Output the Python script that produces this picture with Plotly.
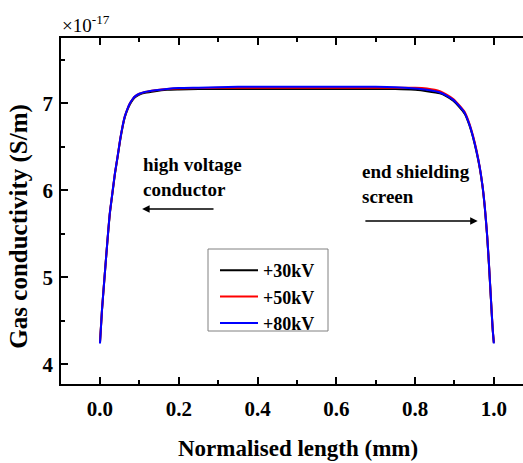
import plotly.graph_objects as go

# Normalised position along the gap
x_pos = [0.0, 0.005, 0.011, 0.018, 0.025, 0.032, 0.038, 0.045, 0.051, 0.057,
         0.063, 0.07, 0.076, 0.083, 0.089, 0.1, 0.114, 0.14, 0.17, 0.2,
         0.25, 0.3, 0.35, 0.4, 0.45, 0.5, 0.55, 0.6, 0.65, 0.7,
         0.75, 0.8, 0.83, 0.863, 0.88, 0.897, 0.912, 0.926, 0.937, 0.947,
         0.956, 0.964, 0.971, 0.977, 0.983, 0.988, 0.993, 0.997, 1.0]

# Gas conductivity in units of 1e-17 S/m
sigma_30kv = [4.25, 4.62, 4.97, 5.37, 5.73, 5.98, 6.19, 6.39, 6.57, 6.72,
              6.84, 6.93, 6.99, 7.04, 7.07, 7.10, 7.12, 7.14, 7.155, 7.16,
              7.165, 7.165, 7.165, 7.165, 7.165, 7.165, 7.165, 7.165, 7.165, 7.165,
              7.165, 7.155, 7.14, 7.115, 7.08, 7.03, 6.96, 6.88, 6.76, 6.61,
              6.44, 6.26, 6.05, 5.80, 5.47, 5.11, 4.71, 4.40, 4.25]
sigma_50kv = [4.25, 4.62, 4.97, 5.37, 5.74, 5.99, 6.20, 6.40, 6.58, 6.73,
              6.85, 6.94, 7.00, 7.05, 7.08, 7.11, 7.13, 7.15, 7.165, 7.17,
              7.175, 7.18, 7.18, 7.18, 7.18, 7.18, 7.18, 7.18, 7.18, 7.18,
              7.18, 7.18, 7.17, 7.14, 7.10, 7.05, 6.98, 6.90, 6.78, 6.63,
              6.46, 6.27, 6.06, 5.81, 5.48, 5.12, 4.72, 4.41, 4.25]
sigma_80kv = [4.24, 4.62, 4.97, 5.37, 5.74, 5.99, 6.20, 6.40, 6.58, 6.73,
              6.85, 6.94, 7.00, 7.05, 7.08, 7.11, 7.13, 7.15, 7.165, 7.175,
              7.18, 7.185, 7.19, 7.19, 7.19, 7.19, 7.19, 7.19, 7.19, 7.19,
              7.185, 7.17, 7.155, 7.125, 7.09, 7.04, 6.97, 6.89, 6.77, 6.62,
              6.45, 6.27, 6.06, 5.81, 5.48, 5.12, 4.72, 4.41, 4.24]

series_names = ["+30kV", "+50kV", "+80kV"]
series_colors = ["#000000", "#ff0000", "#0000ff"]

x_ticks = [0.0, 0.2, 0.4, 0.6, 0.8, 1.0]
x_tick_text = ["0.0", "0.2", "0.4", "0.6", "0.8", "1.0"]
y_ticks = [4, 5, 6, 7]
y_tick_text = ["4", "5", "6", "7"]

SERIF = "Times New Roman, Liberation Serif, DejaVu Serif, serif"

fig = go.Figure()
for name, ys, col in zip(series_names, [sigma_30kv, sigma_50kv, sigma_80kv], series_colors):
    fig.add_trace(go.Scatter(x=x_pos, y=ys, mode="lines", name=name,
                             line=dict(color=col, width=2, shape="spline", smoothing=0.6)))

axis_common = dict(
    showline=True, linecolor="black", linewidth=1.5,
    ticks="inside", ticklen=7, tickwidth=1.5, tickcolor="black",
    showgrid=False, zeroline=False,
    tickfont=dict(family=SERIF, size=21, color="black", weight="bold"),
)

fig.update_xaxes(range=[-0.099, 1.074], tickvals=x_ticks, ticktext=x_tick_text,
                 mirror="ticks",
                 minor=dict(ticks="inside", ticklen=4, tickwidth=1.5, tickcolor="black", dtick=0.1, tick0=0),
                 ticklabelstandoff=5, **axis_common)
fig.update_yaxes(range=[3.774, 7.751], tickvals=y_ticks, ticktext=y_tick_text,
                 mirror=False,
                 minor=dict(ticks="inside", ticklen=4, tickwidth=1.5, tickcolor="black", dtick=0.5, tick0=0),
                 ticklabelstandoff=2, **axis_common)

bold_font = dict(family=SERIF, size=19, color="black", weight="bold")
title_font = dict(family=SERIF, size=23, color="black", weight="bold")

annotations = [
    dict(text="Normalised length (mm)", xref="paper", yref="paper", x=0.513, y=-0.185,
         xanchor="center", yanchor="middle", showarrow=False, font=title_font),
    dict(text="Gas conductivity (S/m)", xref="paper", yref="paper", x=-0.09, y=0.456,
         xanchor="center", yanchor="middle", textangle=-90, showarrow=False,
         font=dict(family=SERIF, size=25, color="black", weight="bold")),
    dict(text="×10<sup>-17</sup>", xref="paper", yref="paper", x=-0.003, y=1.0,
         xanchor="left", yanchor="bottom", showarrow=False,
         font=dict(family=SERIF, size=19, color="black")),
    dict(text="high voltage<br>conductor", xref="x", yref="y", x=0.104, y=6.44,
         xanchor="left", yanchor="top", align="left", showarrow=False, font=bold_font),
    dict(text="end shielding<br>screen", xref="x", yref="y", x=0.661, y=6.36,
         xanchor="left", yanchor="top", align="left", showarrow=False, font=bold_font),
    # arrows pointing to each electrode
    dict(x=0.107, y=5.785, ax=0.292, ay=5.785, xref="x", yref="y", axref="x", ayref="y",
         text="", showarrow=True, arrowhead=2, arrowsize=1, arrowwidth=1.5, arrowcolor="black"),
    dict(x=0.959, y=5.647, ax=0.670, ay=5.647, xref="x", yref="y", axref="x", ayref="y",
         text="", showarrow=True, arrowhead=2, arrowsize=1, arrowwidth=1.5, arrowcolor="black"),
]

# frame around the legend entries
legend_frame = dict(type="rect", xref="paper", yref="paper",
                    x0=(208 - 61) / 462, x1=(328 - 61) / 462,
                    y0=(384 - 331) / 346, y1=(384 - 249) / 346,
                    line=dict(color="#808080", width=1), fillcolor="white", layer="below")

fig.update_layout(
    width=523, height=463,
    margin=dict(l=61, r=0, t=38, b=79),
    paper_bgcolor="white", plot_bgcolor="white",
    font=dict(family=SERIF),
    annotations=annotations,
    shapes=[legend_frame],
    showlegend=True,
    legend=dict(x=(215 - 61) / 462, y=(384 - 252) / 346, xanchor="left", yanchor="top",
                bgcolor="rgba(0,0,0,0)", borderwidth=0,
                font=dict(family=SERIF, size=18, color="black", weight="bold"),
                itemwidth=38, tracegroupgap=0),
)

fig.write_html("out.html")
